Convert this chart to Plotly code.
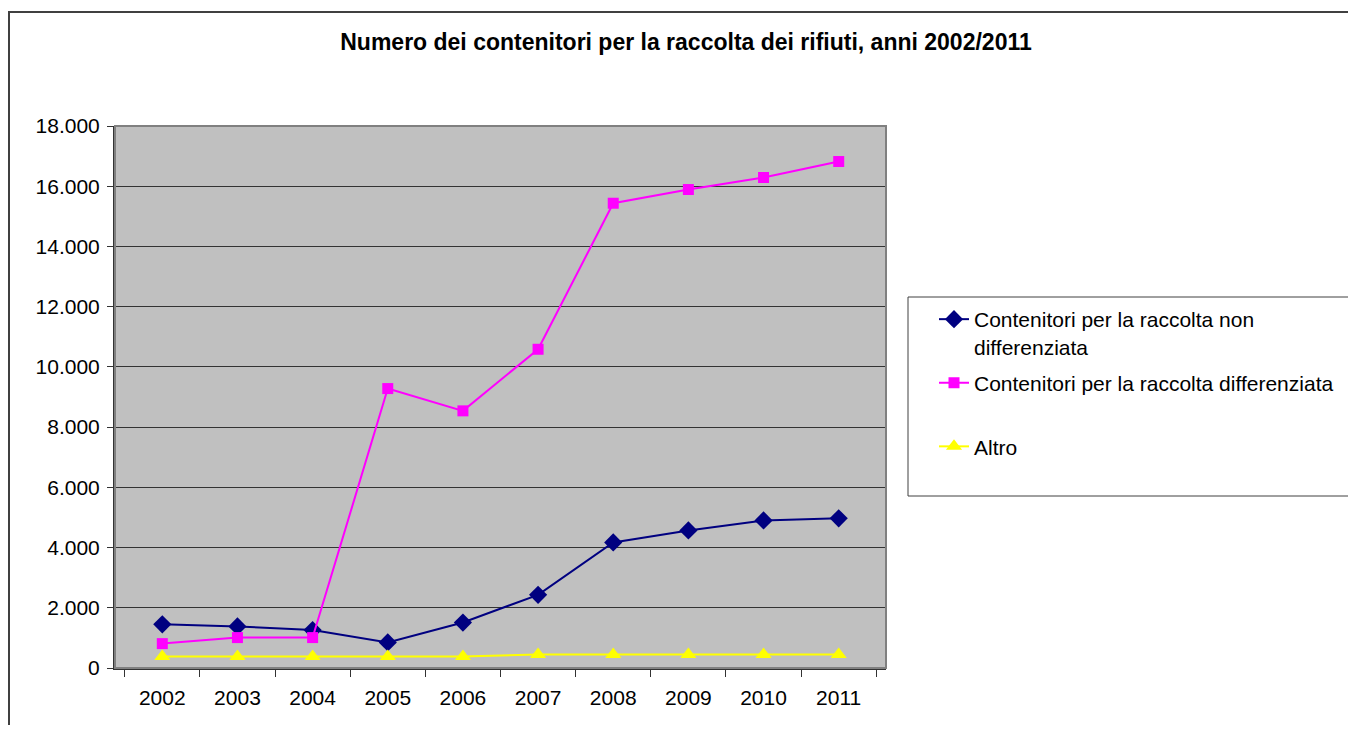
import plotly.graph_objects as go

years = ["2002", "2003", "2004", "2005", "2006", "2007", "2008", "2009", "2010", "2011"]
non_diff = [1450, 1380, 1260, 850, 1510, 2430, 4170, 4570, 4900, 4970]
diff = [810, 1010, 1010, 9280, 8540, 10585, 15435, 15890, 16290, 16820]
altro = [380, 380, 380, 380, 380, 450, 450, 450, 450, 450]

names = ["Contenitori per la raccolta non<br>differenziata",
         "Contenitori per la raccolta differenziata<br> ",
         "Altro"]
y_ticks = list(range(0, 18001, 2000))

OFF = 8  # page body margin
W, H = 1356 - 2 * OFF, 733 - 2 * OFF
# plot area in window pixels
PL, PR, PT, PB = 115, 886, 126, 668
L, R, T, B = PL - OFF, PR - OFF, PT - OFF, PB - OFF


def px_x(p):
    return (p - PL) / (PR - PL)


def px_y(p):
    return (PB - p) / (PB - PT)


FONT = "Liberation Sans, Arial, sans-serif"

fig = go.Figure()
fig.add_trace(go.Scatter(x=years, y=non_diff, name=names[0], mode="lines+markers",
                         legendgroup="a",
                         line=dict(color="#000080", width=2),
                         marker=dict(symbol="diamond", size=14, color="#000080")))
fig.add_trace(go.Scatter(x=years, y=diff, name=names[1], mode="lines+markers",
                         legendgroup="b",
                         line=dict(color="#FF00FF", width=2),
                         marker=dict(symbol="square", size=11, color="#FF00FF")))
fig.add_trace(go.Scatter(x=years, y=altro, name=names[2], mode="lines+markers",
                         legendgroup="c",
                         line=dict(color="#FFFF00", width=2),
                         marker=dict(symbol="triangle-up", size=14, color="#FFFF00")))

fig.update_layout(
    width=W, height=H,
    margin=dict(l=L, r=W - R, t=T, b=H - B, autoexpand=False),
    paper_bgcolor="white",
    plot_bgcolor="#C0C0C0",
    separators=",.",
    font=dict(family=FONT, size=21, color="black"),
    title=dict(text="<b>Numero dei contenitori per la raccolta dei rifiuti, anni 2002/2011</b>",
               x=(686 - OFF) / W, xanchor="center", xref="container",
               y=1 - (42 - OFF) / H, yanchor="middle", yref="container",
               font=dict(family=FONT, size=23, color="black")),
    xaxis=dict(type="category", showgrid=False, ticks="outside", ticklen=7,
               tickson="boundaries", tickcolor="#333333", tickwidth=1,
               showline=True, linecolor="#333333", linewidth=2,
               ticklabelstandoff=10,
               tickfont=dict(family=FONT, size=21, color="black")),
    yaxis=dict(range=[0, 18000], tickvals=y_ticks, tickformat=",d",
               showgrid=True, gridcolor="#333333", gridwidth=1,
               ticks="outside", ticklen=6, tickcolor="#333333",
               showline=True, linecolor="#333333", linewidth=2,
               zeroline=False, ticklabelstandoff=3,
               tickfont=dict(family=FONT, size=21, color="black")),
    legend=dict(x=px_x(934), xanchor="left", y=px_y(299), yanchor="top",
                bgcolor="rgba(0,0,0,0)", borderwidth=0, valign="top",
                tracegroupgap=6, itemclick=False,
                font=dict(family=FONT, size=21, color="black")),
    showlegend=True,
    shapes=[
        # plot area border (top/right)
        dict(type="rect", xref="paper", yref="paper", x0=0, x1=1, y0=0, y1=1,
             line=dict(color="#808080", width=2), fillcolor="rgba(0,0,0,0)", layer="above"),
        # outer chart frame
        dict(type="rect", xref="paper", yref="paper",
             x0=px_x(9), x1=px_x(1370), y0=px_y(745), y1=px_y(12),
             line=dict(color="#404040", width=2), fillcolor="rgba(0,0,0,0)"),
        # legend box
        dict(type="rect", xref="paper", yref="paper",
             x0=px_x(908), x1=px_x(1370), y0=px_y(496), y1=px_y(297),
             line=dict(color="#404040", width=1), fillcolor="rgba(0,0,0,0)"),
    ],
)

fig.write_html("out.html")
